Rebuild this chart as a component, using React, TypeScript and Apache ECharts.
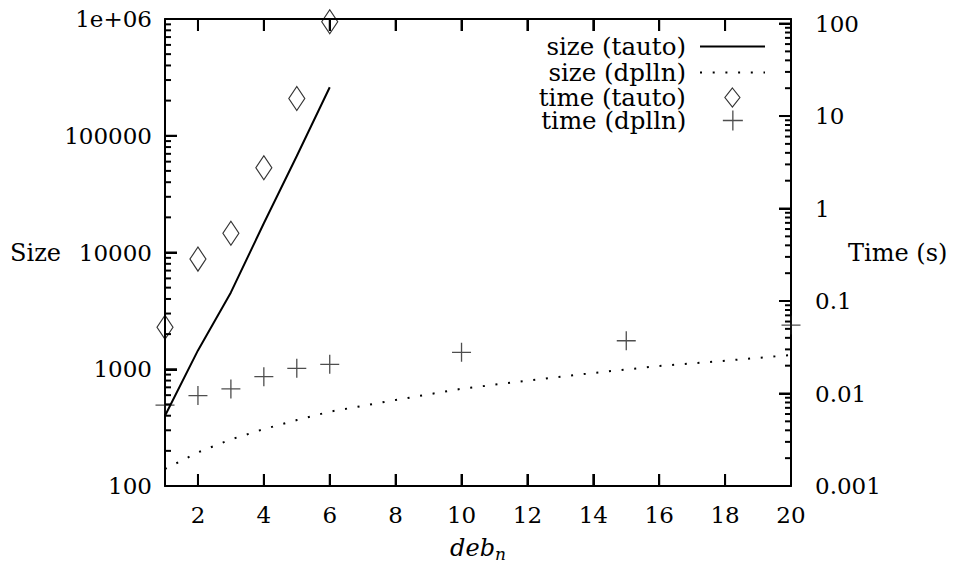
import React, { useEffect, useRef } from "react";
import * as echarts from "echarts";

// ---- data ----
const xTicks = [2, 4, 6, 8, 10, 12, 14, 16, 18, 20];
const xTickLabels = ["2", "4", "6", "8", "10", "12", "14", "16", "18", "20"];

const sizeTicks = [100, 1000, 10000, 100000, 1000000];
const sizeTickLabels = ["100", "1000", "10000", "100000", "1e+06"];
const timeTicks = [0.001, 0.01, 0.1, 1, 10, 100];
const timeTickLabels = ["0.001", "0.01", "0.1", "1", "10", "100"];
const minorMultipliers = [2, 3, 4, 5, 6, 7, 8, 9];
const sizeMinorDecades = [100, 1000, 10000, 100000];
const timeMinorDecades = [0.001, 0.01, 0.1, 1, 10];

const tautoN = [1, 2, 3, 4, 5, 6];
const sizeTauto = [400, 1450, 4550, 17800, 67000, 260000];
const timeTauto = [0.052, 0.284, 0.54, 2.76, 15.5, 104.6];

const dpllnSizeN = [1, 2, 3, 4, 5, 6, 8, 10, 12, 14, 16, 18, 20];
const sizeDplln = [140, 194, 251, 307, 367, 433, 545, 681, 798, 929, 1066, 1183, 1324];

const dpllnTimeN = [1, 2, 3, 4, 5, 6, 10, 15, 20];
const timeDplln = [0.0075, 0.0095, 0.0112, 0.0152, 0.0187, 0.0207, 0.0279, 0.0372, 0.055];

const seriesNames = ["size (tauto)", "size (dplln)", "time (tauto)", "time (dplln)"];

const X_MIN = 1;
const X_MAX = 20;
const SIZE_MIN = 100;
const SIZE_MAX = 1000000;
const TIME_MIN = 0.001;
const TIME_MAX = 112;

const FONT = "'DejaVu Serif', serif";
const PLUS = "path://M0,10L20,10M10,0L10,20";
const DIAMOND_ICON = "path://M7.5,0L15,9.5L7.5,19L0,9.5Z";

function minorList(decades: number[]) {
  const out: number[] = [];
  decades.forEach((d) => minorMultipliers.forEach((m) => out.push(+(d * m).toPrecision(6))));
  return out;
}

function labelFor(ticks: number[], labels: string[]) {
  return (v: number) => {
    for (let i = 0; i < ticks.length; i++) {
      if (Math.abs(Math.log10(v) - Math.log10(ticks[i])) < 1e-6) return labels[i];
    }
    return "";
  };
}

function frameLine() {
  return { show: true, onZero: false, lineStyle: { color: "#000", width: 2 } };
}
function majorTick() {
  return { show: true, inside: true, length: 12, lineStyle: { color: "#000", width: 2 } };
}

export default function App() {
  const ref = useRef<HTMLDivElement>(null);

  useEffect(() => {
    if (!ref.current) return;
    const chart = echarts.init(ref.current, undefined, { renderer: "svg" });

    const black = "#000";
    const tickFont = { color: black, fontFamily: FONT, fontSize: 23 };
    const nameFont = { color: black, fontFamily: FONT, fontSize: 24 };

    const legendText = (lh: number) => ({
      color: black,
      fontFamily: FONT,
      fontSize: 24.5,
      lineHeight: lh,
      padding: [0, 9, 0, 0],
    });
    const legendBase = () => ({
      orient: "horizontal",
      align: "right",
      padding: 0,
      itemWidth: 65,
      itemGap: 0,
      selectedMode: false,
    });

    const option: any = {
      animation: false,
      grid: { left: 165, right: 175, top: 19, bottom: 82, outerBoundsMode: "none" },
      legend: [
        {
          ...legendBase(),
          right: 200,
          top: 34,
          itemHeight: 20,
          data: [seriesNames[0]],
          textStyle: legendText(20),
          itemStyle: { opacity: 0 },
          lineStyle: { color: black, width: 2, type: "solid" },
        },
        {
          ...legendBase(),
          right: 200,
          top: 60,
          itemHeight: 20,
          data: [seriesNames[1]],
          textStyle: legendText(20),
          itemStyle: { opacity: 0 },
          lineStyle: { color: black, width: 2, type: [2, 10.7], cap: "butt" },
        },
        {
          ...legendBase(),
          right: 225.5,
          top: 85,
          itemHeight: 19,
          data: [{ name: seriesNames[2], icon: DIAMOND_ICON }],
          textStyle: legendText(19),
          itemStyle: { color: "rgba(0,0,0,0)", borderColor: black, borderWidth: 1.2 },
        },
        {
          ...legendBase(),
          right: 222.5,
          top: 108,
          itemHeight: 20,
          data: [{ name: seriesNames[3], icon: PLUS }],
          textStyle: legendText(20),
          itemStyle: { color: "rgba(0,0,0,0)", borderColor: "#222", borderWidth: 1.3 },
        },
      ],
      xAxis: [
        {
          type: "value",
          min: X_MIN,
          max: X_MAX,
          splitNumber: 10,
          position: "bottom",
          axisLine: frameLine(),
          axisTick: majorTick(),
          axisLabel: {
            margin: 17,
            ...tickFont,
            formatter: (v: number) => xTickLabels[xTicks.indexOf(Math.round(v * 1000) / 1000)] ?? "",
          },
          splitLine: { show: false },
          name: "{a|deb}{b|n}",
          nameLocation: "middle",
          nameGap: 47,
          nameMoveOverlap: false,
          nameTextStyle: {
            rich: {
              a: { ...nameFont, fontStyle: "italic" },
              b: { ...nameFont, fontSize: 17, fontStyle: "italic", padding: [12, 0, 0, 0] },
            },
          },
        },
        {
          type: "value",
          min: X_MIN,
          max: X_MAX,
          splitNumber: 10,
          position: "top",
          axisLine: frameLine(),
          axisTick: majorTick(),
          axisLabel: { show: true, color: "rgba(0,0,0,0)", formatter: () => "" },
          splitLine: { show: false },
        },
      ],
      yAxis: [
        {
          type: "log",
          logBase: 10,
          min: SIZE_MIN,
          max: SIZE_MAX,
          position: "left",
          axisLine: frameLine(),
          axisTick: majorTick(),
          axisLabel: {
            margin: 13,
            ...tickFont,
            formatter: labelFor(sizeTicks, sizeTickLabels),
          },
          splitLine: { show: false },
          name: "Size",
          nameLocation: "middle",
          nameRotate: 0,
          nameGap: 104,
          nameMoveOverlap: false,
          nameTextStyle: { ...nameFont, align: "right", verticalAlign: "middle" },
        },
        {
          type: "log",
          logBase: 10,
          min: TIME_MIN,
          max: TIME_MAX,
          position: "right",
          axisLine: frameLine(),
          axisTick: majorTick(),
          axisLabel: {
            margin: 24,
            ...tickFont,
            formatter: labelFor(timeTicks, timeTickLabels),
          },
          splitLine: { show: false },
          name: "Time (s)",
          nameLocation: "middle",
          nameRotate: 0,
          nameGap: 57,
          nameMoveOverlap: false,
          nameTextStyle: { ...nameFont, align: "left", verticalAlign: "middle" },
        },
      ],
      series: [
        {
          name: seriesNames[0],
          type: "line",
          xAxisIndex: 0,
          yAxisIndex: 0,
          data: tautoN.map((n, i) => [n, sizeTauto[i]]),
          symbol: "none",
          lineStyle: { color: black, width: 2 },
          itemStyle: { color: black },
        },
        {
          name: seriesNames[1],
          type: "line",
          xAxisIndex: 0,
          yAxisIndex: 0,
          data: dpllnSizeN.map((n, i) => [n, sizeDplln[i]]),
          symbol: "none",
          lineStyle: { color: black, width: 2, type: [2, 10.7], cap: "butt" },
          itemStyle: { color: black },
        },
        {
          name: seriesNames[2],
          type: "scatter",
          xAxisIndex: 0,
          yAxisIndex: 1,
          data: tautoN.map((n, i) => [n, timeTauto[i]]),
          symbol: "diamond",
          symbolSize: [16, 24],
          itemStyle: { color: "rgba(0,0,0,0)", borderColor: black, borderWidth: 1.2 },
          clip: false,
        },
        {
          name: seriesNames[3],
          type: "scatter",
          xAxisIndex: 0,
          yAxisIndex: 1,
          data: dpllnTimeN.map((n, i) => [n, timeDplln[i]]),
          symbol: PLUS,
          symbolSize: 19,
          itemStyle: { color: "rgba(0,0,0,0)", borderColor: "#222", borderWidth: 1.3 },
          clip: false,
        },
      ],
    };

    chart.setOption(option);

    // tick marks positioned through the chart's own scales (convertToPixel)
    const px = (x: number, y: number, yAxisIndex: number) =>
      chart.convertToPixel({ xAxisIndex: 0, yAxisIndex }, [x, y]) as number[];
    const els: any[] = [];
    const addLine = (x1: number, y1: number, x2: number, y2: number) =>
      els.push({
        type: "line",
        silent: true,
        z: 100,
        shape: { x1, y1, x2, y2 },
        style: { stroke: "#000", lineWidth: 2 },
      });
    xTicks.forEach((x) => {
      const b = px(x, SIZE_MIN, 0);
      const t = px(x, SIZE_MAX, 0);
      addLine(b[0], b[1], b[0], b[1] - 12);
      addLine(t[0], t[1], t[0], t[1] + 12);
    });
    sizeTicks.forEach((v) => {
      const p = px(X_MIN, v, 0);
      addLine(p[0], p[1], p[0] + 12, p[1]);
    });
    minorList(sizeMinorDecades).forEach((v) => {
      const p = px(X_MIN, v, 0);
      addLine(p[0], p[1], p[0] + 6, p[1]);
    });
    timeTicks.forEach((v) => {
      const p = px(X_MAX, v, 1);
      addLine(p[0], p[1], p[0] - 12, p[1]);
    });
    minorList(timeMinorDecades).forEach((v) => {
      const p = px(X_MAX, v, 1);
      addLine(p[0], p[1], p[0] - 6, p[1]);
    });
    chart.setOption({ graphic: { elements: els } });

    return () => chart.dispose();
  }, []);

  return (
    <div
      ref={ref}
      style={{ position: "fixed", left: 0, top: 0, width: 966, height: 568, background: "#fff" }}
    />
  );
}
